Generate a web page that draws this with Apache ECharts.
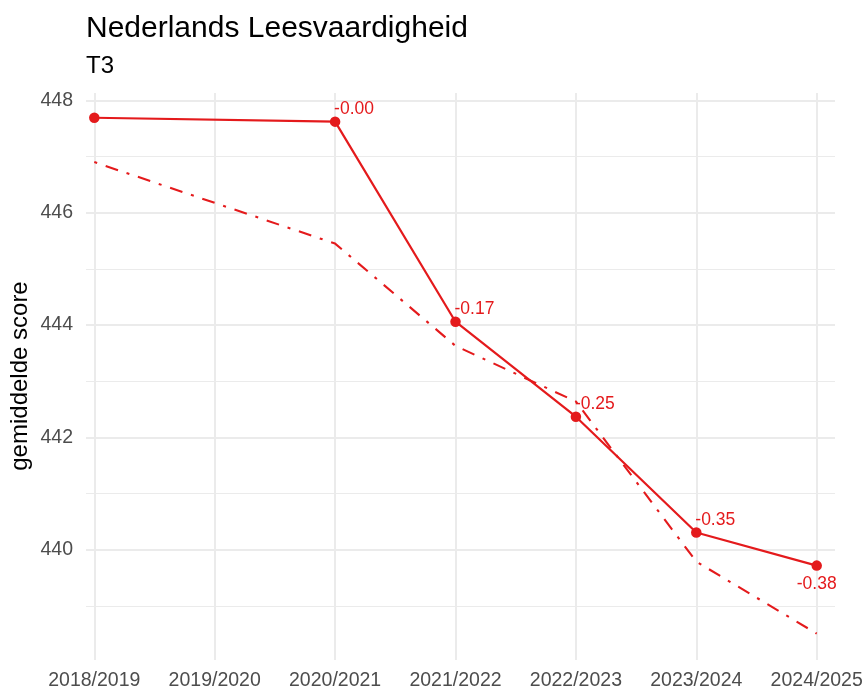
<!DOCTYPE html>
<html>
<head>
<meta charset="utf-8">
<script src="https://cdn.jsdelivr.net/npm/echarts@6/dist/echarts.min.js"></script>
<style>
html,body{margin:0;padding:0;background:#fff;}
#chart{width:866px;height:693px;}
</style>
</head>
<body>
<div id="chart"></div>
<script>
// ---- data ----
const categories = ['2018/2019','2019/2020','2020/2021','2021/2022','2022/2023','2023/2024','2024/2025'];
const scoreValues = [447.69, null, 447.62, 444.06, 442.37, 440.31, 439.72];
const trendValues = [446.90, null, 445.45, 443.63, 442.64, 439.79, 438.51];
const changeLabels = ['', null, '-0.00', '-0.17', '-0.25', '-0.35', '-0.38'];
const yTicks = [440, 442, 444, 446, 448];
const yMinorTicks = [439, 441, 443, 445, 447];

const RED = '#E41A1C';
const FONT = '"Liberation Sans", Arial, sans-serif';

const chart = echarts.init(document.getElementById('chart'), null, {renderer: 'canvas'});

const solidData = [];
scoreValues.forEach((v, i) => {
  if (v == null) return;
  const lbl = changeLabels[i];
  let label = {show: false};
  if (lbl) {
    if (i === categories.length - 1) {
      label = {show: true, formatter: lbl, position: 'bottom', distance: 13, align: 'center', verticalAlign: 'middle'};
    } else {
      label = {show: true, formatter: lbl, position: 'top', distance: 7, align: 'left', verticalAlign: 'middle', offset: [-1, 0]};
    }
  }
  solidData.push({value: [i, v], label: label});
});
const trendData = [];
trendValues.forEach((v, i) => { if (v != null) trendData.push([i, v]); });

const gridMarks = [];
yTicks.forEach(v => gridMarks.push({yAxis: v, lineStyle: {width: 2}}));
yMinorTicks.forEach(v => gridMarks.push({yAxis: v, lineStyle: {width: 1.1}}));
categories.forEach((c, i) => gridMarks.push({xAxis: i, lineStyle: {width: 2}}));

const option = {
  animation: false,
  backgroundColor: '#ffffff',
  title: [
    {text: 'Nederlands Leesvaardigheid', left: 86, top: 14, padding: 0,
     textStyle: {fontFamily: FONT, fontSize: 30, fontWeight: 'normal', color: '#000'}},
    {text: 'T3', left: 86, top: 54, padding: 0,
     textStyle: {fontFamily: FONT, fontSize: 24, fontWeight: 'normal', color: '#000'}}
  ],
  graphic: [
    {type: 'text', x: 20, y: 376, rotation: Math.PI / 2,
     style: {text: 'gemiddelde score', fontFamily: FONT, fontSize: 24, fill: '#000', align: 'center', verticalAlign: 'middle'}}
  ],
  grid: {left: 86, right: 31, top: 93, bottom: 33, containLabel: false},
  xAxis: {
    type: 'value', min: -0.069, max: 6.152,
    axisLine: {show: false}, axisTick: {show: false}, splitLine: {show: false},
    axisLabel: {
      customValues: categories.map((c, i) => i),
      formatter: v => categories[Math.round(v)] || '',
      color: '#4d4d4d', fontFamily: FONT, fontSize: 19.5, margin: 11
    }
  },
  yAxis: {
    type: 'value', min: 438.04, max: 448.13,
    axisLine: {show: false}, axisTick: {show: false}, splitLine: {show: false},
    axisLabel: {
      customValues: yTicks,
      formatter: v => String(Math.round(v)),
      color: '#4d4d4d', fontFamily: FONT, fontSize: 19.5, margin: 13
    }
  },
  series: [
    {
      type: 'line', data: [], z: 1, silent: true,
      markLine: {
        z: 0, zlevel: 0,
        silent: true, symbol: ['none', 'none'], animation: false,
        label: {show: false},
        lineStyle: {color: '#ebebeb', type: 'solid', width: 2},
        emphasis: {disabled: true},
        data: gridMarks
      }
    },
    {
      type: 'line', data: trendData, z: 3, silent: true,
      showSymbol: false, symbol: 'none',
      lineStyle: {color: RED, width: 2.1, type: [3, 9, 13, 9], cap: 'butt'}
    },
    {
      type: 'line', data: solidData, z: 6, silent: true,
      symbol: 'circle', symbolSize: 10.5,
      itemStyle: {color: RED},
      lineStyle: {color: RED, width: 2.2},
      label: {color: RED, fontFamily: FONT, fontSize: 17.5}
    }
  ]
};
chart.setOption(option);
</script>
</body>
</html>
